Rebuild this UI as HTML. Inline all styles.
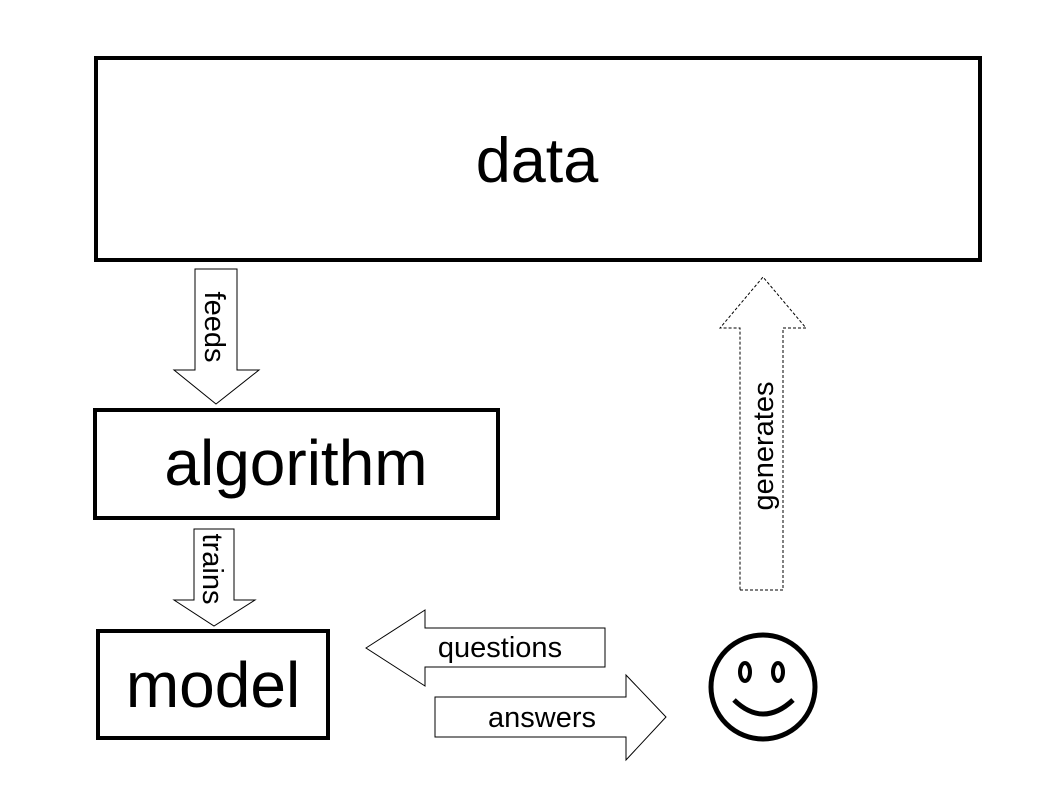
<!DOCTYPE html>
<html><head><style>body{margin:0;background:#fff}svg{display:block}text{font-family:"Liberation Sans",sans-serif;fill:#000}</style></head><body>
<svg width="1058" height="794" viewBox="0 0 1058 794">
<rect x="96" y="58" width="884" height="202" fill="#fff" stroke="#000" stroke-width="4"/>
<text x="537" y="182" font-size="63" text-anchor="middle">data</text>
<polygon points="195,269 237,269 237,370 259,370 216,404 174,370 195,370" fill="#fff" stroke="#000" stroke-width="1"/>
<text transform="translate(205,327) rotate(90)" font-size="29" text-anchor="middle">feeds</text>
<rect x="95" y="410" width="403" height="108" fill="#fff" stroke="#000" stroke-width="4"/>
<text x="296" y="485" font-size="64" text-anchor="middle">algorithm</text>
<polygon points="194,529 234,529 234,600 255,600 214,626 174,600 194,600" fill="#fff" stroke="#000" stroke-width="1"/>
<text transform="translate(203,569) rotate(90)" font-size="29" text-anchor="middle">trains</text>
<rect x="98" y="631" width="230" height="107" fill="#fff" stroke="#000" stroke-width="4"/>
<text x="213" y="707" font-size="64" text-anchor="middle">model</text>
<polygon points="366,648 425,610 425,628 605,628 605,667 425,667 425,686" fill="#fff" stroke="#000" stroke-width="1"/>
<text x="500" y="657" font-size="29" text-anchor="middle">questions</text>
<polygon points="435,697 626,697 626,675 666,717 626,760 626,737 435,737" fill="#fff" stroke="#000" stroke-width="1"/>
<text x="542" y="727" font-size="29" text-anchor="middle">answers</text>
<polygon points="740,590 783,590 783,328 806,328 763,277 720,328 740,328" fill="#fff" stroke="#000" stroke-width="1" stroke-dasharray="3,2"/>
<text transform="translate(773,446) rotate(-90)" font-size="29" text-anchor="middle">generates</text>
<circle cx="763" cy="687" r="52" fill="none" stroke="#000" stroke-width="5"/>
<ellipse cx="745" cy="672" rx="5" ry="9" fill="none" stroke="#000" stroke-width="4"/>
<ellipse cx="778" cy="672" rx="5" ry="9" fill="none" stroke="#000" stroke-width="4"/>
<path d="M734,700 Q763,728 793,700" fill="none" stroke="#000" stroke-width="5"/>
</svg>
</body></html>
